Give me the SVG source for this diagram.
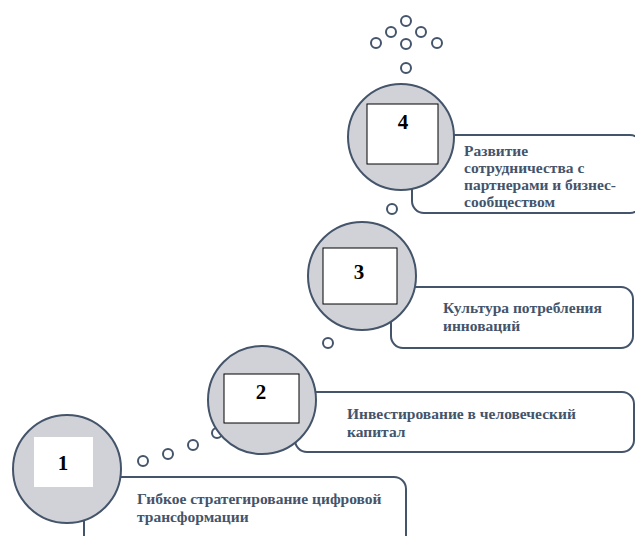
<svg xmlns="http://www.w3.org/2000/svg" width="635" height="536" viewBox="0 0 635 536">
<style>
.callout{fill:#fff;stroke:#44546A;stroke-width:2}
.big{fill:#D0D2D7;stroke:#44546A;stroke-width:2}
.dot{fill:#fff;stroke:#44546A;stroke-width:2}
.box{fill:#fff;stroke:#000;stroke-width:1}
.num{font-family:"Liberation Serif","DejaVu Serif",serif;font-weight:bold;font-size:21px;fill:#000;text-anchor:middle}
.lbl{font-family:"Liberation Serif","DejaVu Serif",serif;font-weight:bold;font-size:15.5px;fill:#44546A}
</style>
<rect width="635" height="536" fill="#fff"/>
<g id="connectors">
<circle class="dot" cx="143" cy="461" r="5"/>
<circle class="dot" cx="168" cy="454" r="5"/>
<circle class="dot" cx="193" cy="445" r="5"/>
<circle class="dot" cx="217" cy="433" r="5"/>
<circle class="dot" cx="328" cy="343" r="5"/>
<circle class="dot" cx="392" cy="209" r="5"/>
<circle class="dot" cx="406" cy="68" r="5"/>
<circle class="dot" cx="376" cy="43" r="5"/>
<circle class="dot" cx="391" cy="32" r="5"/>
<circle class="dot" cx="406" cy="21" r="5"/>
<circle class="dot" cx="421" cy="32" r="5"/>
<circle class="dot" cx="437" cy="43" r="5"/>
<circle class="dot" cx="406" cy="44" r="5"/>
</g>
<g id="node1">
<rect class="callout" x="84" y="477" width="322" height="75" rx="12"/>
<circle class="big" cx="67" cy="469" r="54"/>
<rect x="34" y="437" width="59" height="50" fill="#fff"/>
<text class="num" x="63" y="470">1</text>
<text class="lbl" x="137" y="504">Гибкое стратегирование цифровой</text>
<text class="lbl" x="137" y="522">трансформации</text>
</g>
<g id="node2">
<rect class="callout" x="295" y="392" width="339" height="60" rx="12"/>
<circle class="big" cx="262" cy="400" r="54"/>
<rect class="box" x="224" y="374" width="75" height="49"/>
<text class="num" x="261" y="399">2</text>
<text class="lbl" x="347" y="419">Инвестирование в человеческий</text>
<text class="lbl" x="347" y="437">капитал</text>
</g>
<g id="node3">
<rect class="callout" x="391" y="287" width="242" height="61" rx="12"/>
<circle class="big" cx="362" cy="276" r="54"/>
<rect class="box" x="323" y="248" width="74" height="56"/>
<text class="num" x="359" y="279">3</text>
<text class="lbl" x="443" y="313">Культура потребления</text>
<text class="lbl" x="443" y="331">инноваций</text>
</g>
<g id="node4">
<rect class="callout" x="412" y="135" width="230" height="78" rx="12"/>
<circle class="big" cx="401" cy="137" r="53"/>
<rect class="box" x="367" y="104" width="71" height="60"/>
<text class="num" x="403" y="129">4</text>
<text class="lbl" x="464" y="156">Развитие</text>
<text class="lbl" x="464" y="173">сотрудничества с</text>
<text class="lbl" x="464" y="190">партнерами и бизнес-</text>
<text class="lbl" x="464" y="207">сообществом</text>
</g>
</svg>
